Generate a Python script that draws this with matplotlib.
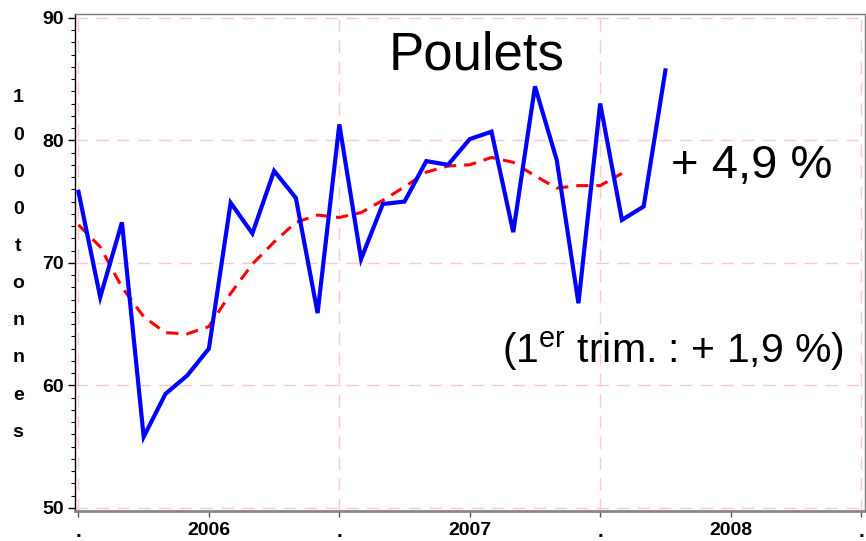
import numpy as np
import matplotlib
matplotlib.use('Agg')
from matplotlib import pyplot as plt
from matplotlib.ticker import FixedLocator, MultipleLocator

plt.rcParams.update({
    "font.family": ["Liberation Sans", "DejaVu Sans"],
    "mathtext.fontset": "custom",
    "mathtext.rm": "Liberation Sans",
    "mathtext.it": "Liberation Sans",
})

# monthly production, thousand tonnes (Jan 2006 -> Apr 2008)
poulets = [75.8, 67.2, 73.3, 55.8, 59.3, 60.8, 63.0, 74.9, 72.4, 77.5, 75.3, 65.9,
           81.3, 70.3, 74.8, 75.0, 78.3, 78.0, 80.1, 80.7, 72.5, 84.4, 78.4, 66.7,
           83.0, 73.5, 74.6, 85.7]
# trend (Jan 2006 -> Feb 2008)
tendance = [73.1, 71.3, 68.0, 65.6, 64.3, 64.2, 64.8, 67.5, 69.9, 71.7, 73.3, 73.9,
            73.7, 74.1, 75.1, 76.2, 77.4, 77.9, 78.0, 78.6, 78.2, 77.1, 76.1, 76.3,
            76.3, 77.3]
year_starts = [0, 12, 24, 36]
year_mids = [6, 18, 30]
year_labels = ["2006", "2007", "2008"]
y_ticks = [50, 60, 70, 80, 90]

fig = plt.figure(figsize=(8.66, 5.41), dpi=100)
ax = fig.add_axes([0.0866, 0.0555, 0.9122, 0.9185])

grid_kw = dict(color="#ffc8d0", linewidth=1, dashes=(9, 6), zorder=0)
for y in y_ticks:
    ax.axhline(y, **grid_kw)
for x in year_starts:
    ax.axvline(x, **grid_kw)

ax.plot(np.arange(len(tendance)), tendance, color="red", linewidth=2.2,
        dashes=(4, 2.6), zorder=2)
ax.plot(np.arange(len(poulets)), poulets, color="blue", linewidth=3,
        solid_joinstyle="miter", zorder=3)

ax.set_xlim(-0.16, 36.18)
ax.set_ylim(49.75, 90.3)

ax.yaxis.set_major_locator(FixedLocator(y_ticks))
ax.yaxis.set_minor_locator(MultipleLocator(1))
ax.set_yticklabels([str(v) for v in y_ticks], fontsize=14, fontweight="bold")
ax.tick_params(axis="y", which="major", length=5, width=1, pad=3)
ax.tick_params(axis="y", which="minor", length=3, width=0.8)

ax.xaxis.set_major_locator(FixedLocator(year_starts))
ax.xaxis.set_minor_locator(FixedLocator(year_mids))
ax.set_xticklabels(["."] * len(year_starts), fontsize=15, fontweight="bold")
ax.xaxis.set_minor_formatter(plt.FixedFormatter(year_labels))
ax.tick_params(axis="x", which="both", length=4, width=1, color="#555555", pad=4)
for lab in ax.xaxis.get_minorticklabels():
    lab.set_fontsize(14)
    lab.set_fontweight("bold")

for side in ["top", "right"]:
    ax.spines[side].set_color("#777777")
    ax.spines[side].set_linewidth(1)
ax.spines["bottom"].set_color("#888888")
ax.spines["bottom"].set_linewidth(2)
ax.spines["left"].set_color("black")
ax.spines["left"].set_linewidth(1)

fig.text(0.021, 0.51, "1\n0\n0\n0\nt\no\nn\nn\ne\ns", ha="center", va="center",
         fontsize=14, fontweight="bold", linespacing=2.55)

ax.text(0.508, 0.917, "Poulets", transform=ax.transAxes, ha="center", va="center",
        fontsize=38)
ax.text(0.856, 0.694, "+ 4,9 %", transform=ax.transAxes, ha="center", va="center",
        fontsize=34)
ax.text(0.757, 0.322, r"(1$^{\rm er}$ trim. : + 1,9 %)", transform=ax.transAxes,
        ha="center", va="center", fontsize=29.5)

plt.savefig("out.png", dpi=100)
